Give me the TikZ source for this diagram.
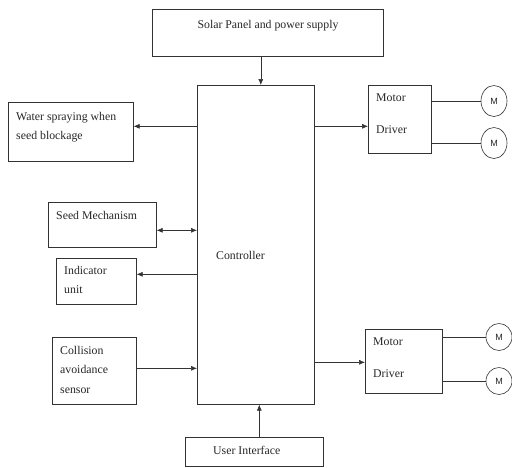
\documentclass[tikz,border=0pt]{standalone}
\usepackage{fontspec}
\setmainfont{Liberation Serif}
\newfontfamily\motorfont{Liberation Sans}
\usetikzlibrary{shapes.geometric, arrows.meta, calc}

\begin{document}
\begin{tikzpicture}[x=1pt, y=-1pt,
    blk/.style={draw=black!80, line width=0.6pt, inner sep=0pt, anchor=north west},
    txt/.style={inner sep=0pt, anchor=north west, align=left, text=black!85,
        font=\fontsize{11.8}{19.5}\selectfont},
    arr/.style={draw=black!80, line width=0.6pt, -{Latex[length=6pt,width=5pt]}},
    wire/.style={draw=black!80, line width=0.6pt},
    mot/.style={draw=black!80, line width=0.6pt, ellipse, inner sep=0pt, text=black!85,
        font=\motorfont\fontsize{9}{9}\selectfont}]
\useasboundingbox (0,0) rectangle (512,467);

% Blocks
\node[blk, minimum width=231pt, minimum height=47pt] (solar) at (152,9) {};
\node[blk, minimum width=117pt, minimum height=319pt] (ctrl) at (197,85) {};
\node[blk, minimum width=125pt, minimum height=59pt] (water) at (8,102) {};
\node[blk, minimum width=108pt, minimum height=45pt] (seed) at (48,202) {};
\node[blk, minimum width=80pt, minimum height=46pt] (indic) at (56,258) {};
\node[blk, minimum width=84pt, minimum height=67pt] (coll) at (52,337) {};
\node[blk, minimum width=138pt, minimum height=29pt] (ui) at (185,437) {};
\node[blk, minimum width=63pt, minimum height=68pt] (drv1) at (368,85) {};
\node[blk, minimum width=77pt, minimum height=64pt] (drv2) at (365,329) {};

% Labels
\node[txt, anchor=north] (solartxt) at (268,20) {Solar Panel and power supply};
\node[txt] (ctrltxt) at (216,251) {Controller};
\node[txt] (watertxt) at (16,112) {Water spraying when\\seed blockage};
\node[txt] (seedtxt) at (56,211) {Seed Mechanism};
\node[txt] (indictxt) at (64,266) {Indicator\\unit};
\node[txt] (colltxt) at (60,346) {Collision\\avoidance\\sensor};
\node[txt] (uitxt) at (213,446) {User Interface};
\node[txt] (drv1txt) at (376,94) {Motor\\[12pt]Driver};
\node[txt] (drv2txt) at (373,338) {Motor\\[12pt]Driver};

% Motors
\node[mot, minimum width=26pt, minimum height=31pt] (m1) at (494,101) {M};
\node[mot, minimum width=26pt, minimum height=31pt] (m2) at (494,143) {M};
\node[mot, minimum width=26pt, minimum height=27pt] (m3) at (499,337) {M};
\node[mot, minimum width=26pt, minimum height=27pt] (m4) at (499,381) {M};

% Connections
\draw[arr] ([xshift=-7pt]solar.south) -- ([xshift=-7pt]solar.south |- ctrl.north);
\draw[arr] ([yshift=5.5pt]water.east -| ctrl.west) -- ([yshift=5.5pt]water.east);
\draw[arr] ([yshift=-7pt]drv1.west -| ctrl.east) -- ([yshift=-7pt]drv1.west);
\draw[{Latex[length=6pt,width=5pt]}-{Latex[length=6pt,width=5pt]}, wire]
    ([yshift=-5.5pt]seed.east) -- ([yshift=-5.5pt]seed.east -| ctrl.west);
\draw[arr] ([yshift=7pt]indic.east -| ctrl.west) -- ([yshift=7pt]indic.east);
\draw[arr] ([yshift=2.5pt]coll.east) -- ([yshift=2.5pt]coll.east -| ctrl.west);
\draw[arr] ([yshift=-1pt]drv2.west -| ctrl.east) -- ([yshift=-1pt]drv2.west);
\draw[arr] ([xshift=5pt]ui.north) -- ([xshift=5pt]ui.north |- ctrl.south);

% Motor lines
\draw[wire] (m1.west -| drv1.east) -- (m1.west);
\draw[wire] (m2.west -| drv1.east) -- (m2.west);
\draw[wire] (m3.west -| drv2.east) -- (m3.west);
\draw[wire] (m4.west -| drv2.east) -- (m4.west);
\end{tikzpicture}
\end{document}
